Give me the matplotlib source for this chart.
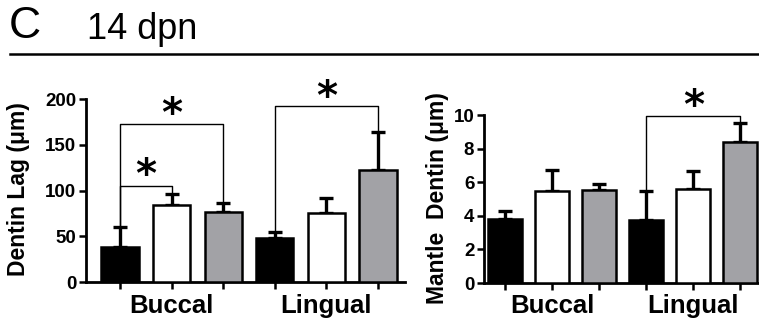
import matplotlib
matplotlib.use("Agg")
import matplotlib.pyplot as plt
from matplotlib.lines import Line2D

plt.rcParams['font.family'] = ['Liberation Sans', 'DejaVu Sans']

groups = ["Buccal", "Lingual"]
colors = ["black", "white", "#a2a2a6"]

# dentin lag (um): buccal x3, lingual x3
lag_mean = [38, 84, 77, 48, 75, 123]
lag_err = [22, 12, 9, 7, 17, 41]

# mantle dentin (um)
mantle_mean = [3.82, 5.48, 5.55, 3.77, 5.6, 8.42]
mantle_err = [0.48, 1.27, 0.32, 1.68, 1.05, 1.08]

# significance brackets: (x1, x2, y, left leg end, right leg end, star y)
lag_sig = [(0, 1, 105, 61, 97, 116), (0, 2, 173, 61, 86, 183), (3, 5, 192, 56, 165, 201)]
mantle_sig = [(3, 5, 9.93, 5.45, 9.5, 10.5)]

fig = plt.figure(figsize=(7.59, 3.22), dpi=100)

fig.text(0.011, 0.855, "C", fontsize=32, va="bottom", ha="left")
fig.text(0.114, 0.855, "14 dpn", fontsize=26, va="bottom", ha="left")
fig.add_artist(Line2D([0.013, 1.0], [0.832, 0.832], color="black", lw=1.8))


def panel(rect, means, errs, ylim, yticks, xlim, sig, ylabel, label_x, label_y):
    ax = fig.add_axes(rect)
    x = range(len(means))
    ax.bar(x, means, width=0.72, color=colors * 2, edgecolor="black", linewidth=1.8, zorder=3)
    ax.errorbar(x, means, yerr=[[0] * len(errs), errs], fmt="none", ecolor="black",
                elinewidth=2.4, capsize=5, capthick=2.4, zorder=2)
    ax.set_ylim(*ylim)
    ax.set_xlim(*xlim)
    ax.set_yticks(yticks)
    ax.set_xticks(list(x))
    ax.set_xticklabels([])
    for s in ["top", "right"]:
        ax.spines[s].set_visible(False)
    for s in ["left", "bottom"]:
        ax.spines[s].set_linewidth(2)
    ax.tick_params(axis="both", width=1.8, length=5, direction="out", pad=2)
    for lab in ax.get_yticklabels():
        lab.set_fontweight("bold")
        lab.set_fontsize(13.5)
    for i, g in enumerate(groups):
        ax.text(1 + 3 * i, -0.065 * ylim[1], g, fontsize=18.5, fontweight="bold",
                ha="center", va="top", clip_on=False)
    for x1, x2, y, l1, l2, sy in sig:
        ax.plot([x1, x1, x2, x2], [l1, y, y, l2], color="black", lw=1.0, clip_on=False, zorder=4)
        ax.text((x1 + x2) / 2, sy, "*", fontsize=29, fontweight="bold", ha="center",
                va="center", clip_on=False, family="DejaVu Sans")
    fig.text(label_x, label_y, ylabel, rotation=90, fontsize=16.5, fontweight="bold",
             ha="center", va="center")
    return ax


panel([0.1133, 0.1242, 0.42, 0.568], lag_mean, lag_err, (0, 200), [0, 50, 100, 150, 200],
      (-0.66, 5.52), lag_sig, "Dentin Lag (\u03bcm)", 0.024, 0.413)
panel([0.6377, 0.1211, 0.381, 0.5217], mantle_mean, mantle_err, (0, 10), [0, 2, 4, 6, 8, 10],
      (-0.45, 5.7), mantle_sig, "Mantle  Dentin (\u03bcm)", 0.577, 0.385)

fig.savefig("out.png", dpi=100)
